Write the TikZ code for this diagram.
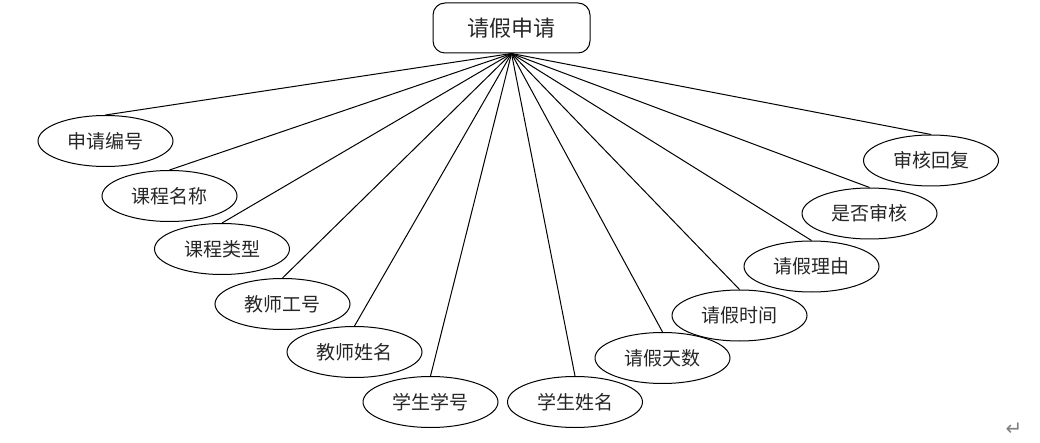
\documentclass[tikz,border=0pt]{standalone}
\usepackage{fontspec}
\newfontfamily\cjk{Noto Sans CJK SC}
\newfontfamily\symfont{DejaVu Sans}
\usetikzlibrary{shapes.geometric}
\begin{document}
\begin{tikzpicture}[x=1pt,y=-1pt,
  attr/.style={ellipse,draw,line width=1pt,minimum width=135pt,minimum height=51pt,inner sep=0pt,font=\cjk\fontsize{19}{21}\selectfont,text=black!85},
  entity/.style={rectangle,rounded corners=12pt,draw,line width=1pt,minimum width=157pt,minimum height=50pt,inner sep=0pt,font=\cjk\fontsize{22}{24}\selectfont,text=black!85},
  link/.style={line width=1pt}]
\useasboundingbox (0,0) rectangle (1040,443);
\node[entity] (top) at (511.5,28) {请假申请};
\node[attr] (a1) at (105.5,141) {申请编号};
\node[attr] (a2) at (169.5,196) {课程名称};
\node[attr] (a3) at (222,249) {课程类型};
\node[attr] (a4) at (282.5,304) {教师工号};
\node[attr] (a5) at (354.5,352) {教师姓名};
\node[attr] (a6) at (430.5,402) {学生学号};
\node[attr] (a7) at (575,402) {学生姓名};
\node[attr] (a8) at (662.5,358) {请假天数};
\node[attr] (a9) at (739.5,315.5) {请假时间};
\node[attr] (a10) at (811.5,266.5) {请假理由};
\node[attr] (a11) at (869.5,213.5) {是否审核};
\node[attr] (a12) at (931,160.5) {审核回复};
\foreach \i in {1,...,12} {\draw[link] (top.south) -- (a\i.north);}
\node[font=\symfont\fontsize{20}{22}\selectfont,text=black!50,inner sep=0pt] (ret) at (1014,429) {↵};
\end{tikzpicture}
\end{document}
